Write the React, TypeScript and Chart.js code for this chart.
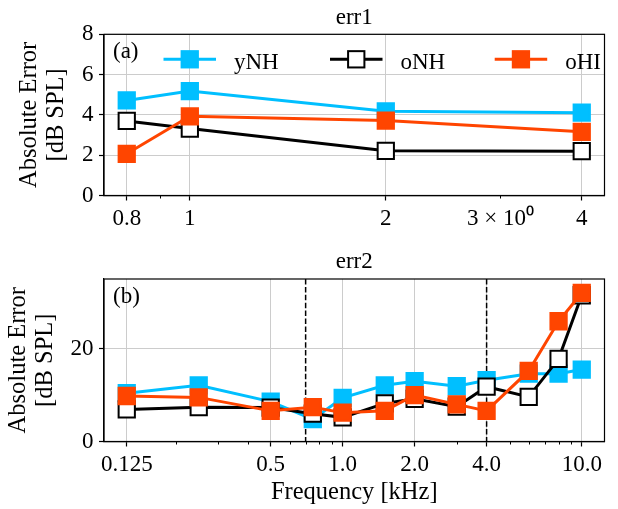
import React, { useEffect, useRef } from 'react';
import { Chart, registerables } from 'chart.js';

Chart.register(...registerables);

const FONT = "'Liberation Serif', 'Times New Roman', serif";

// ---------- series meta ----------
const SERIES = ['yNH', 'oNH', 'oHI'];
const LINE_COLORS = ['#00BFFF', '#000000', '#FF4500'];
const MARKER_FILLS = ['#00BFFF', '#FFFFFF', '#FF4500'];

// ---------- panel (a): err1 ----------
const FREQ_ERR1 = [0.8, 1, 2, 4];
const ERR1_YNH = [4.72, 5.18, 4.18, 4.11];
const ERR1_ONH = [3.7, 3.32, 2.22, 2.2];
const ERR1_OHI = [2.07, 3.93, 3.72, 3.16];
const ERR1_X_TICKS = [0.8, 1, 2, 3, 4];
const ERR1_X_TICK_LABELS = ['0.8', '1', '2', '3 × 10⁰', '4'];
const ERR1_X_GRID = [0.8, 1, 2, 4];
const ERR1_X_MINOR = [0.9, 3];
const ERR1_Y_TICKS = [0, 2, 4, 6, 8];
const ERR1_Y_TICK_LABELS = ['0', '2', '4', '6', '8'];

// ---------- panel (b): err2 ----------
const FREQ_ERR2 = [0.125, 0.25, 0.5, 0.75, 1, 1.5, 2, 3, 4, 6, 8, 10];
const ERR2_YNH = [10.4, 12.1, 8.6, 4.8, 9.4, 12.1, 13.0, 11.9, 13.2, 14.6, 14.6, 15.5];
const ERR2_ONH = [6.9, 7.4, 7.3, 6.0, 5.2, 8.2, 9.2, 7.5, 11.8, 9.6, 17.8, 31.5];
const ERR2_OHI = [9.8, 9.5, 6.6, 7.4, 6.2, 6.6, 10.0, 8.0, 6.6, 15.2, 25.9, 32.0];
const ERR2_X_TICKS = [0.125, 0.5, 1, 2, 4, 10];
const ERR2_X_TICK_LABELS = ['0.125', '0.5', '1.0', '2.0', '4.0', '10.0'];
const ERR2_X_GRID = [0.125, 0.5, 1, 2, 4, 10];
const ERR2_X_MINOR = [0.2, 0.3, 0.4, 0.6, 0.7, 0.8, 0.9, 3, 5, 6, 7, 8, 9];
const ERR2_Y_TICKS = [0, 20];
const ERR2_Y_TICK_LABELS = ['0', '20'];
const ERR2_VLINES = [0.7, 4];

interface PanelSpec {
  key: string;
  height: number;
  padTop: number;
  xAxisHeight: number;
  yAxisWidth: number;
  yTitlePad: number;
  freq: number[];
  series: number[][];
  xTicks: number[];
  xLabels: string[];
  xGrid: number[];
  xMinor: number[];
  yTicks: number[];
  yLabels: string[];
  yMax: number;
  title: string;
  panelLabel: string;
  xTitle?: string;
  vlines: number[];
  legend: boolean;
}

const PANEL1: PanelSpec = {
  key: 'a', height: 240, padTop: 34.3, xAxisHeight: 44.5, yAxisWidth: 104, yTitlePad: 16.5,
  freq: FREQ_ERR1, series: [ERR1_YNH, ERR1_ONH, ERR1_OHI],
  xTicks: ERR1_X_TICKS, xLabels: ERR1_X_TICK_LABELS, xGrid: ERR1_X_GRID, xMinor: ERR1_X_MINOR,
  yTicks: ERR1_Y_TICKS, yLabels: ERR1_Y_TICK_LABELS, yMax: 8,
  title: 'err1', panelLabel: '(a)', vlines: [], legend: true,
};

const PANEL2: PanelSpec = {
  key: 'b', height: 269, padTop: 39, xAxisHeight: 67.5, yAxisWidth: 104, yTitlePad: 4.7,
  freq: FREQ_ERR2, series: [ERR2_YNH, ERR2_ONH, ERR2_OHI],
  xTicks: ERR2_X_TICKS, xLabels: ERR2_X_TICK_LABELS, xGrid: ERR2_X_GRID, xMinor: ERR2_X_MINOR,
  yTicks: ERR2_Y_TICKS, yLabels: ERR2_Y_TICK_LABELS, yMax: 35,
  title: 'err2', panelLabel: '(b)', xTitle: 'Frequency [kHz]', vlines: ERR2_VLINES, legend: false,
};

const LEGEND_X = [163.5, 330, 494.7];

function decorPlugin(spec: PanelSpec) {
  return {
    id: 'decor_' + spec.key,
    beforeDatasetsDraw(chart: any) {
      const { ctx, chartArea } = chart;
      const xs = chart.scales.x;
      ctx.save();
      ctx.strokeStyle = '#000';
      ctx.lineWidth = 1.5;
      ctx.setLineDash([5.5, 2.4]);
      for (const v of spec.vlines) {
        const px = xs.getPixelForValue(v);
        ctx.beginPath();
        ctx.moveTo(px, chartArea.top);
        ctx.lineTo(px, chartArea.bottom);
        ctx.stroke();
      }
      ctx.restore();
    },
    afterDraw(chart: any) {
      const { ctx, chartArea } = chart;
      const xs = chart.scales.x;
      ctx.save();
      // frame
      ctx.strokeStyle = '#000';
      ctx.lineWidth = 1.2;
      ctx.strokeRect(chartArea.left, chartArea.top, chartArea.right - chartArea.left, chartArea.bottom - chartArea.top);
      // minor ticks
      ctx.lineWidth = 1;
      for (const v of spec.xMinor) {
        const px = Math.round(xs.getPixelForValue(v)) + 0.5;
        ctx.beginPath();
        ctx.moveTo(px, chartArea.bottom);
        ctx.lineTo(px, chartArea.bottom + 3);
        ctx.stroke();
      }
      // title
      ctx.fillStyle = '#000';
      ctx.font = `23px ${FONT}`;
      ctx.textAlign = 'center';
      ctx.textBaseline = 'alphabetic';
      ctx.fillText(spec.title, (chartArea.left + chartArea.right) / 2, chartArea.top - 10.8);
      // panel label
      ctx.textAlign = 'left';
      ctx.fillText(spec.panelLabel, chartArea.left + 9, chartArea.top + 24);
      // legend
      if (spec.legend) {
        const yc = chartArea.top + 25;
        for (let i = 0; i < SERIES.length; i++) {
          const L = LEGEND_X[i];
          ctx.strokeStyle = LINE_COLORS[i];
          ctx.lineWidth = 3;
          ctx.beginPath();
          ctx.moveTo(L, yc);
          ctx.lineTo(L + 52.5, yc);
          ctx.stroke();
          const s = 16.3;
          const cx = L + 26.25;
          ctx.fillStyle = MARKER_FILLS[i];
          ctx.fillRect(cx - s / 2, yc - s / 2, s, s);
          ctx.lineWidth = 2;
          ctx.strokeRect(cx - s / 2, yc - s / 2, s, s);
          ctx.fillStyle = '#000';
          ctx.fillText(SERIES[i], L + 70.5, yc + 9.3);
        }
      }
      ctx.restore();
    },
  };
}

function makeConfig(spec: PanelSpec): any {
  const f0 = spec.freq[0];
  const f1 = spec.freq[spec.freq.length - 1];
  const span = Math.log10(f1 / f0);
  const xmin = f0 * Math.pow(10, -0.05 * span);
  const xmax = f1 * Math.pow(10, 0.05 * span);

  const datasets = spec.series.map((vals, k) => ({
    label: SERIES[k],
    data: spec.freq.map((x, i) => ({ x, y: vals[i] })),
    borderColor: LINE_COLORS[k],
    backgroundColor: MARKER_FILLS[k],
    borderWidth: 3,
    pointStyle: 'rect',
    pointRadius: 11.5,
    pointHoverRadius: 11.5,
    pointBorderWidth: 2,
    pointBackgroundColor: MARKER_FILLS[k],
    pointBorderColor: LINE_COLORS[k],
    tension: 0,
    order: 3 - k,
    clip: false,
  }));

  return {
    type: 'line',
    data: { datasets },
    options: {
      responsive: false,
      animation: false,
      devicePixelRatio: 1,
      events: [],
      layout: { padding: { top: spec.padTop, right: 1, bottom: 0, left: 0 } },
      plugins: {
        legend: { display: false },
        tooltip: { enabled: false },
        title: { display: false },
      },
      scales: {
        x: {
          type: 'logarithmic',
          bounds: 'data',
          min: xmin,
          max: xmax,
          afterBuildTicks: (s: any) => { s.ticks = spec.xTicks.map((v) => ({ value: v })); },
          afterFit: (s: any) => { s.height = spec.xAxisHeight; },
          ticks: {
            autoSkip: false,
            maxRotation: 0,
            minRotation: 0,
            padding: 5,
            color: '#000',
            font: { family: FONT, size: 23 },
            callback: (_v: any, i: number) => spec.xLabels[i],
          },
          grid: {
            color: (c: any) => (c.tick && spec.xGrid.includes(c.tick.value) ? '#cccccc' : 'rgba(0,0,0,0)'),
            lineWidth: 1,
            tickLength: 5,
            tickWidth: 1.2,
            tickColor: (c: any) => (c.tick && spec.xGrid.includes(c.tick.value) ? '#000' : 'rgba(0,0,0,0)'),
          },
          border: { display: true, color: '#000', width: 1.2 },
          title: spec.xTitle
            ? {
                display: true,
                text: spec.xTitle,
                color: '#000',
                font: { family: FONT, size: 24.5, lineHeight: 1.1 },
                padding: { top: 0, bottom: 2.5 },
              }
            : { display: false },
        },
        y: {
          type: 'linear',
          min: 0,
          max: spec.yMax,
          afterBuildTicks: (s: any) => { s.ticks = spec.yTicks.map((v) => ({ value: v })); },
          afterFit: (s: any) => { s.width = spec.yAxisWidth; },
          ticks: {
            padding: 5.5,
            color: '#000',
            font: { family: FONT, size: 23 },
            callback: (_v: any, i: number) => spec.yLabels[i],
          },
          grid: {
            color: '#cccccc',
            lineWidth: 1,
            tickLength: 5,
            tickWidth: 1.2,
            tickColor: '#000',
          },
          border: { display: true, color: '#000', width: 1.2 },
          title: {
            display: true,
            text: ['Absolute Error', '[dB SPL]'],
            color: '#000',
            font: { family: FONT, size: 24.5, lineHeight: 1.1 },
            padding: { top: spec.yTitlePad, bottom: 0 },
          },
        },
      },
    },
    plugins: [decorPlugin(spec)],
  };
}

export default function App() {
  const r1 = useRef<HTMLCanvasElement>(null);
  const r2 = useRef<HTMLCanvasElement>(null);
  useEffect(() => {
    const c1 = new Chart(r1.current as HTMLCanvasElement, makeConfig(PANEL1));
    const c2 = new Chart(r2.current as HTMLCanvasElement, makeConfig(PANEL2));
    return () => {
      c1.destroy();
      c2.destroy();
    };
  }, []);
  return (
    <div style={{ position: 'absolute', left: 0, top: 0, width: 618, height: 509, background: '#fff' }}>
      <canvas ref={r1} width={618} height={240} style={{ display: 'block', width: 618, height: 240 }} />
      <canvas ref={r2} width={618} height={269} style={{ display: 'block', width: 618, height: 269 }} />
    </div>
  );
}
